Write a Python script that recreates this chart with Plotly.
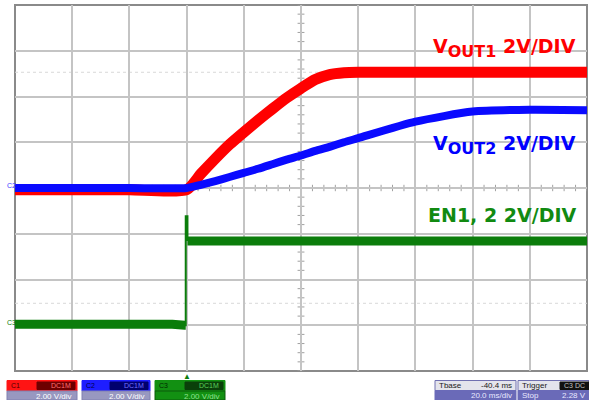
import plotly.graph_objects as go

# ---- data (time in ms, amplitude in screen divisions; 2 V/div) ----
time_ms = [-60, -40, -20, 0, 5, 10, 15, 20, 25, 30, 35, 40, 45, 50, 55, 60, 80, 100, 120, 140]
vout1_div = [-0.04, -0.04, -0.04, -0.04, 0.31, 0.64, 0.95, 1.22, 1.48, 1.73, 1.97, 2.18, 2.37, 2.48, 2.52, 2.53, 2.53, 2.53, 2.53, 2.53]
vout2_div = [0.0, 0.0, 0.0, 0.0, 0.07, 0.15, 0.24, 0.33, 0.42, 0.52, 0.62, 0.71, 0.81, 0.90, 1.00, 1.09, 1.45, 1.67, 1.71, 1.70]

en_time_ms = [-60, -30, -5, -0.6, -0.3, -0.3, 0.3, 0.3, 20, 60, 100, 140]
en_div = [-2.98, -2.96, -2.98, -3.0, -3.0, -0.62, -0.62, -1.16, -1.16, -1.16, -1.16, -1.16]

labels = ["V<sub><span style='font-size:16px'>OUT1</span></sub> 2V/DIV",
          "V<sub><span style='font-size:16px'>OUT2</span></sub> 2V/DIV",
          "EN1, 2 2V/DIV"]
label_levels = [3.05, 0.95, -0.6]
label_colors = ["#ff0000", "#0000ff", "#118a11"]

XMIN, XMAX, YMIN, YMAX = -60, 140, -4, 4
W, H = 589, 400
ML, MR, MT, MB = 15, 2, 5, 29

RED, BLUE, GREEN = "#ff0000", "#0a0aff", "#0b7d0b"

fig = go.Figure()

fig.add_trace(go.Scatter(x=time_ms, y=vout1_div, mode="lines",
                         line=dict(color=RED, width=11, shape="spline", smoothing=0.6),
                         hoverinfo="skip"))
fig.add_trace(go.Scatter(x=time_ms, y=vout2_div, mode="lines",
                         line=dict(color=BLUE, width=8, shape="spline", smoothing=0.6),
                         hoverinfo="skip"))
# EN: thick flat parts, thin vertical edge
fig.add_trace(go.Scatter(x=en_time_ms[:5], y=en_div[:5], mode="lines",
                         line=dict(color=GREEN, width=9), hoverinfo="skip"))
fig.add_trace(go.Scatter(x=en_time_ms[3:8], y=en_div[3:8], mode="lines",
                         line=dict(color=GREEN, width=2), hoverinfo="skip"))
fig.add_trace(go.Scatter(x=en_time_ms[7:], y=en_div[7:], mode="lines",
                         line=dict(color=GREEN, width=9), hoverinfo="skip"))

shapes = []
# faint dotted reference lines
for lv in (2.53, -2.52):
    shapes.append(dict(type="line", xref="x", yref="y", x0=XMIN, x1=XMAX, y0=lv, y1=lv,
                       line=dict(color="#d8d8d8", width=1, dash="dot"), layer="below"))
# minor ticks on centre axes
t = XMIN
while t <= XMAX + 1e-9:
    shapes.append(dict(type="line", xref="x", yref="y", x0=t, x1=t, y0=-0.07, y1=0.07,
                       line=dict(color="#a0a0a0", width=1), layer="below"))
    t += 4
v = YMIN
while v <= YMAX + 1e-9:
    shapes.append(dict(type="line", xref="x", yref="y", x0=38.8, x1=41.2, y0=v, y1=v,
                       line=dict(color="#a0a0a0", width=1), layer="below"))
    v += 0.2
# border
shapes.append(dict(type="rect", xref="paper", yref="paper", x0=0, x1=1, y0=0, y1=1,
                   line=dict(color="#8a8a8a", width=2), layer="below"))

pw = W - ML - MR
ph = H - MT - MB
def px(xp):
    return (xp - ML) / pw
def py(yp):
    return (H - MB - yp) / ph

annotations = []
for txt_, lv, col in zip(labels, label_levels, label_colors):
    annotations.append(dict(x=px(578), y=lv, xref="paper", yref="y", xanchor="right", yanchor="middle",
                            text=txt_, showarrow=False,
                            font=dict(family="DejaVu Sans", size=19, color=col, weight="bold")))

def box(x0, x1, y0, y1, fill, line=None):
    shapes.append(dict(type="rect", xref="paper", yref="paper", x0=px(x0), x1=px(x1),
                       y0=py(y1), y1=py(y0), fillcolor=fill,
                       line=dict(color=line or fill, width=1), layer="above"))

def txt(x, y, s, col, anchor="left", size=8):
    annotations.append(dict(x=px(x), y=py(y), xref="paper", yref="paper", xanchor=anchor,
                            yanchor="middle", text=s, showarrow=False,
                            font=dict(family="Arial", size=size, color=col)))

# channel boxes
chan = [(7, 77, "#ff1414", "#6e0000", "C1", "#4a0000", "#ff7070"),
        (82, 150, "#1e1eff", "#00006e", "C2", "#00004a", "#7070ff"),
        (155, 225, "#129012", "#0a400a", "C3", "#002a00", "#5ad05a")]
for x0, x1, top, dark, name, tcol, dtxt in chan:
    box(x0, x1, 380.5, 391, top, top)
    box(x1 - 40, x1 - 2, 382, 389.5, dark, dark)
    if name == "C3":
        box(x0, x1, 391, 400, "#129012", "#0a5a0a")
        txt(x1 - 3, 396, "2.00 V/div", "#8ee08e", "right")
    else:
        box(x0, x1, 391, 400, "#9898c0", "#8080b0")
        txt(x1 - 3, 396, "2.00 V/div", "#ffffff", "right")
    txt(x0 + 2, 385.5, name, tcol, size=7)
    txt(x1 - 4, 385.5, "DC1M", dtxt, "right", size=7)

# timebase / trigger boxes
box(435, 516, 380.5, 390.5, "#e4e4ec", "#7070b0")
box(435, 516, 390.5, 400, "#6a6ab8", "#6a6ab8")
txt(437, 385.5, "Tbase", "#202020")
txt(514, 385.5, "-40.4 ms", "#202020", "right")
txt(514, 395.5, "20.0 ms/div", "#e8e8ff", "right")
box(518, 589, 380.5, 390.5, "#e4e4ec", "#7070b0")
box(518, 589, 390.5, 400, "#6a6ab8", "#6a6ab8")
box(560, 589, 382, 389.5, "#101010", "#101010")
txt(520, 385.5, "Trigger", "#202020")
txt(562, 385.5, "C3 DC", "#c0c0c0", size=7)
txt(520, 395.5, "Stop", "#e8e8ff")
txt(588, 395.5, "2.28 V", "#e8e8ff", "right")

# trigger marker and channel ground markers
annotations.append(dict(x=0, y=py(376), xref="x", yref="paper", text="▲", showarrow=False,
                        font=dict(size=8, color=GREEN), xanchor="center", yanchor="middle"))
annotations.append(dict(x=px(11), y=0.05, xref="paper", yref="y", text="C2", showarrow=False,
                        font=dict(size=7, color="#4040ff", family="Arial"), xanchor="center",
                        yanchor="middle"))
annotations.append(dict(x=px(11), y=-2.95, xref="paper", yref="y", text="C3", showarrow=False,
                        font=dict(size=7, color=GREEN, family="Arial"), xanchor="center",
                        yanchor="middle"))

fig.update_layout(
    width=W, height=H,
    margin=dict(l=ML, r=MR, t=MT, b=MB),
    paper_bgcolor="white", plot_bgcolor="white",
    showlegend=False,
    shapes=shapes, annotations=annotations,
    xaxis=dict(range=[XMIN, XMAX], dtick=20, tick0=XMIN, showgrid=True, gridcolor="#c4c4c4",
               gridwidth=1.5, zeroline=False, showticklabels=False, ticks="", fixedrange=True),
    yaxis=dict(range=[YMIN, YMAX], dtick=1, tick0=YMIN, showgrid=True, gridcolor="#c4c4c4",
               gridwidth=1.5, zeroline=False, showticklabels=False, ticks="", fixedrange=True),
)

fig.write_html("out.html", config={"displayModeBar": False},
               post_script="document.body.style.margin='0';document.body.style.overflow='hidden';")
